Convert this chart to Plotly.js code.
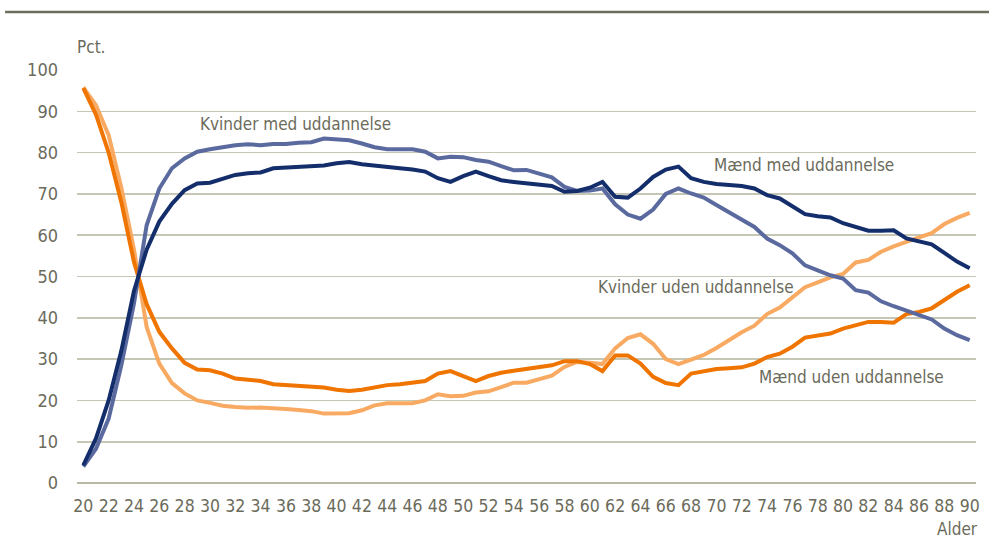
<!DOCTYPE html>
<html>
<head>
<meta charset="utf-8">
<script src="https://cdn.plot.ly/plotly-3.0.1.min.js"></script>
<style>
  html, body { margin: 0; padding: 0; background: #ffffff; }
  #chart { width: 989px; height: 543px; }
</style>
</head>
<body>
<div id="chart"></div>
<script>
const ages = [20,21,22,23,24,25,26,27,28,29,30,31,32,33,34,35,36,37,38,39,40,41,42,43,44,45,46,47,48,49,50,51,52,53,54,55,56,57,58,59,60,61,62,63,64,65,66,67,68,69,70,71,72,73,74,75,76,77,78,79,80,81,82,83,84,85,86,87,88,89,90];

const maendMed = [4.3,10.8,20.0,32.0,46.5,56.5,63.3,67.6,70.9,72.5,72.7,73.7,74.6,75.0,75.2,76.2,76.4,76.6,76.8,76.9,77.4,77.7,77.2,76.8,76.4,76.2,75.9,75.4,73.8,72.9,74.3,75.4,74.3,73.3,72.9,72.6,72.3,71.9,70.5,70.7,71.5,72.9,69.3,69.1,71.3,74.1,75.9,76.6,73.8,72.9,72.4,72.1,71.9,71.3,69.7,68.9,67.0,65.1,64.6,64.3,62.9,62.0,61.1,61.1,61.2,59.2,58.6,57.8,55.7,53.6,52.0];

const kvinderMed = [4.0,8.3,15.6,28.5,43.5,62.4,71.3,76.2,78.6,80.2,80.8,81.4,81.8,82.0,81.8,82.1,82.1,82.4,82.5,83.4,83.3,83.0,82.2,81.3,80.8,80.9,80.8,80.2,78.6,79.0,78.9,78.2,77.8,76.7,75.7,75.8,75.0,74.0,71.7,70.7,70.8,71.3,67.5,65.0,64.0,66.2,70.0,71.3,70.1,69.1,67.3,65.5,63.8,62.0,59.2,57.6,55.6,52.7,51.5,50.3,49.5,46.7,46.1,44.0,42.8,41.7,40.6,39.6,37.4,35.8,34.6];

const maendUden = [95.6,89.2,80.0,68.0,53.5,43.3,36.6,32.6,29.1,27.5,27.3,26.5,25.3,25.0,24.7,23.9,23.7,23.4,23.1,23.1,22.6,22.3,22.6,23.1,23.7,23.9,24.2,24.7,26.5,27.1,25.9,24.7,25.9,26.7,27.2,27.6,28.0,28.5,29.5,29.5,28.8,27.1,30.9,30.9,28.9,25.7,24.2,23.7,26.5,27.1,27.6,27.8,28.0,28.9,30.5,31.3,33.0,35.2,35.8,36.2,37.4,38.2,39.0,39.0,38.8,40.9,41.4,42.3,44.3,46.3,47.9];

const kvinderUden = [95.8,91.5,84.2,71.5,56.5,37.8,28.9,24.2,21.7,20.0,19.4,18.7,18.4,18.2,18.3,18.0,17.9,17.7,17.4,16.8,16.8,16.9,17.6,18.8,19.3,19.2,19.3,20.0,21.5,21.0,21.1,21.9,22.2,23.2,24.3,24.3,25.1,26.0,28.1,29.3,29.1,28.8,32.6,35.1,36.0,33.7,30.0,28.8,29.9,31.0,32.7,34.6,36.5,38.1,40.9,42.5,44.8,47.4,48.6,49.8,50.6,53.4,54.0,56.0,57.3,58.5,59.5,60.5,62.7,64.2,65.4];

const seriesNames = ["Kvinder med uddannelse", "Mænd med uddannelse", "Kvinder uden uddannelse", "Mænd uden uddannelse"];
const yTicks = [0,10,20,30,40,50,60,70,80,90,100];
const xTicks = [20,22,24,26,28,30,32,34,36,38,40,42,44,46,48,50,52,54,56,58,60,62,64,66,68,70,72,74,76,78,80,82,84,86,88,90];

const FONT = '"Liberation Sans Narrow", "Arial Narrow", "DejaVu Sans Condensed", "Liberation Sans", sans-serif';
const TXT = '#6b6b5b';

function line(y, name, color) {
  return { x: ages, y: y, name: name, type: 'scatter', mode: 'lines',
           line: { color: color, width: 4 }, hoverinfo: 'x+y+name' };
}

const traces = [
  line(kvinderUden, seriesNames[2], '#f8aa62'),
  line(maendUden, seriesNames[3], '#f07400'),
  line(kvinderMed, seriesNames[0], '#5a6a9f'),
  line(maendMed, seriesNames[1], '#142e6c')
];

const ann = (text, x, y, xanchor, xref, yref) => ({
  text: text, x: x, y: y, xref: xref || 'x', yref: yref || 'y',
  xanchor: xanchor || 'left', yanchor: 'middle', showarrow: false,
  font: { family: FONT, size: 17, color: TXT }
});

const layout = {
  width: 989, height: 543,
  margin: { l: 76.7, r: 12.7, t: 70, b: 60.3 },
  paper_bgcolor: '#ffffff', plot_bgcolor: '#ffffff',
  showlegend: false,
  font: { family: FONT, color: TXT, size: 18 },
  xaxis: {
    range: [19.5, 90.5], tickvals: xTicks, ticktext: xTicks.map(String),
    showgrid: false, zeroline: false, showline: false, ticks: '',
    tickfont: { family: FONT, size: 17.5, color: TXT },
    ticklabelstandoff: 10, fixedrange: true
  },
  yaxis: {
    range: [0, 100], tickvals: yTicks, ticktext: yTicks.map(String),
    showgrid: true, gridcolor: '#c6c6b4', gridwidth: 1.6,
    zeroline: true, zerolinecolor: '#b8b8a4', zerolinewidth: 1.6,
    showline: false, ticks: '',
    tickfont: { family: FONT, size: 18, color: TXT },
    ticklabelstandoff: 18, fixedrange: true
  },
  shapes: [
    { type: 'line', xref: 'paper', yref: 'paper', x0: -0.08, x1: 1.02, y0: 1.1405, y1: 1.1405,
      line: { color: '#6d6d5c', width: 2.5 } }
  ],
  annotations: [
    ann(seriesNames[0], 29.07, 86.9),
    ann(seriesNames[1], 69.64, 77.0),
    ann(seriesNames[2], 60.48, 47.4),
    ann(seriesNames[3], 73.19, 25.6),
    ann('Pct.', -0.002, 1.0557, 'left', 'paper', 'paper'),
    ann('Alder', 1.0041, -0.112, 'right', 'paper', 'paper')
  ]
};

Plotly.newPlot('chart', traces, layout, { displayModeBar: false, staticPlot: true });
</script>
</body>
</html>
